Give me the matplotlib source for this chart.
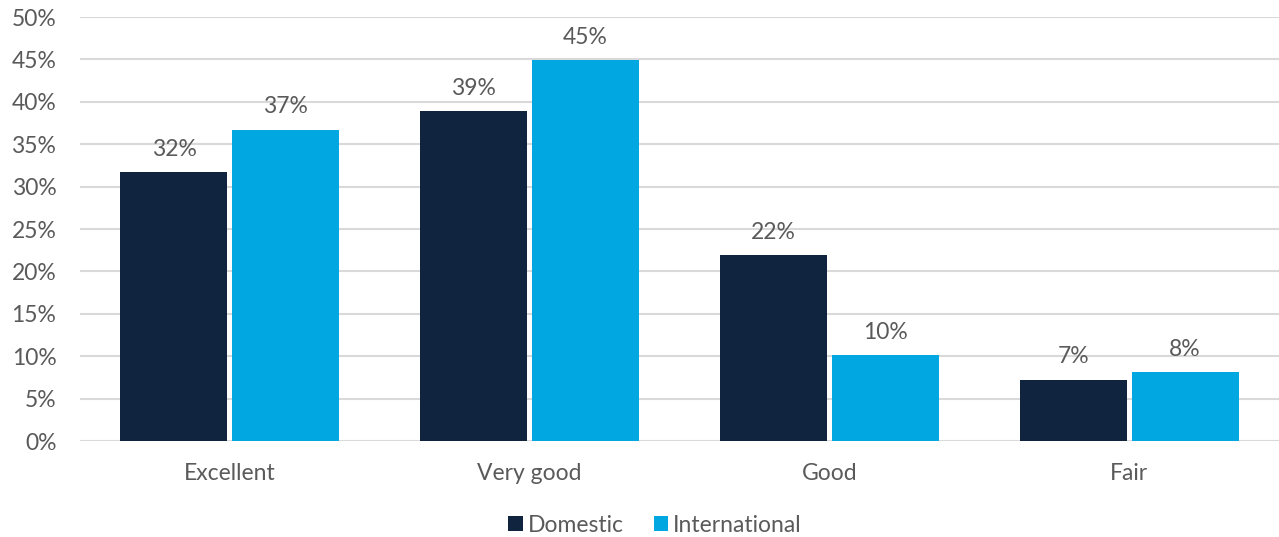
import matplotlib
matplotlib.use("Agg")
import numpy as np
import matplotlib.pyplot as plt
from matplotlib.ticker import FuncFormatter

categories = ["Excellent", "Very good", "Good", "Fair"]
domestic = [31.7, 38.9, 21.9, 7.2]
international = [36.7, 44.9, 10.1, 8.1]

plt.rcParams['font.family'] = ['Lato', 'DejaVu Sans']
text_color = '#5A5A5A'
fs = 16.5

fig = plt.figure(figsize=(12.79, 5.37), dpi=100)
ax = fig.add_axes([80/1279, 1-441/537, 1-80/1279, (441-17)/537])

x = np.arange(len(categories))
w = 0.357
off = 0.1865
b1 = ax.bar(x - off, domestic, w, color='#10233F', label='Domestic', zorder=3)
b2 = ax.bar(x + off, international, w, color='#00A7E1', label='International', zorder=3)

# value labels above each bar
for bars in (b1, b2):
    for rect in bars:
        h = rect.get_height()
        ax.annotate('{:.0f}%'.format(h), (rect.get_x() + rect.get_width()/2, h),
                    xytext=(0, 9), textcoords='offset points',
                    ha='center', va='bottom', fontsize=fs, color=text_color)

ax.set_xlim(-0.5, len(categories) - 0.5)
ax.set_ylim(0, 50)
ax.set_yticks(np.arange(0, 51, 5))
ax.yaxis.set_major_formatter(FuncFormatter(lambda v, p: '{:.0f}%'.format(v)))
ax.set_xticks(x)
ax.set_xticklabels(categories)
ax.tick_params(axis='both', length=0, labelsize=fs, labelcolor=text_color)
ax.tick_params(axis='y', pad=17)
ax.tick_params(axis='x', pad=16)
ax.grid(axis='y', color='#D9D9D9', linewidth=1.5, zorder=0)
for s in ax.spines.values():
    s.set_visible(False)

fig.legend(*ax.get_legend_handles_labels(), loc='center', bbox_to_anchor=(655/1279, 1-525/537),
           ncol=2, frameon=False, fontsize=fs, labelcolor=text_color,
           handlelength=0.65, handleheight=0.65, handletextpad=0.2, columnspacing=1.3)

fig.savefig('out.png', dpi=100)
